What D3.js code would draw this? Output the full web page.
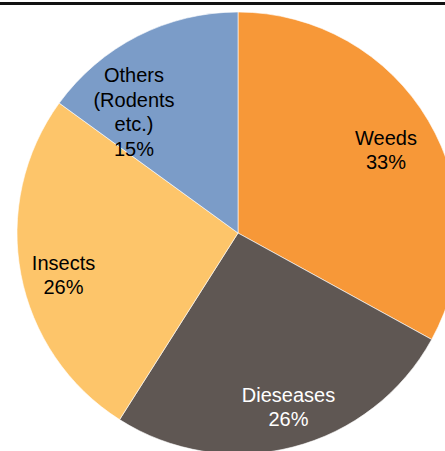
<!DOCTYPE html>
<html><head><meta charset="utf-8">
<script src="https://cdn.jsdelivr.net/npm/d3@7"></script>
<style>body{margin:0;background:#fff;}svg{display:block;}</style>
</head><body>
<script>
const categories = ["Weeds", "Dieseases", "Insects", "Others (Rodents etc.)"];
const values = [33, 26, 26, 15];
const labelLines = [["Weeds","33%"],["Dieseases","26%"],["Insects","26%"],["Others","(Rodents","etc.)","15%"]];
const colors = ["#F79838", "#5F5753", "#FDC56A", "#7B9CC8"];
const textColors = ["#000", "#fff", "#000", "#000"];

const W = 445, H = 451;
const cx = 238, cy = 233, r = 221;
const svg = d3.select("body").append("svg").attr("width", W).attr("height", H);

svg.append("rect").attr("x",0).attr("y",2).attr("width",W).attr("height",3).attr("fill","#111");

const pie = d3.pie().sort(null).value(d => d)(values);
const arc = d3.arc().innerRadius(0).outerRadius(r);
const g = svg.append("g").attr("transform", `translate(${cx},${cy})`);
g.selectAll("path").data(pie).join("path")
  .attr("d", arc).attr("fill", (d,i) => colors[i])
  .attr("stroke", "#fff").attr("stroke-width", 0.6);

const labelPos = [[148,-83],[50.5,174],[-174.5,42],[-104,-121]];
const lh = 24.5;
pie.forEach((d,i) => {
  const lines = labelLines[i];
  const [lx, ly] = labelPos[i];
  const t = g.append("text").attr("text-anchor","middle")
    .attr("font-family","Liberation Sans, Arial, sans-serif").attr("font-size",20)
    .attr("fill", textColors[i]);
  lines.forEach((ln, j) => {
    t.append("tspan").attr("x", lx).attr("y", ly + (j - (lines.length-1)/2)*lh + 7).text(ln);
  });
});
</script>
</body></html>
